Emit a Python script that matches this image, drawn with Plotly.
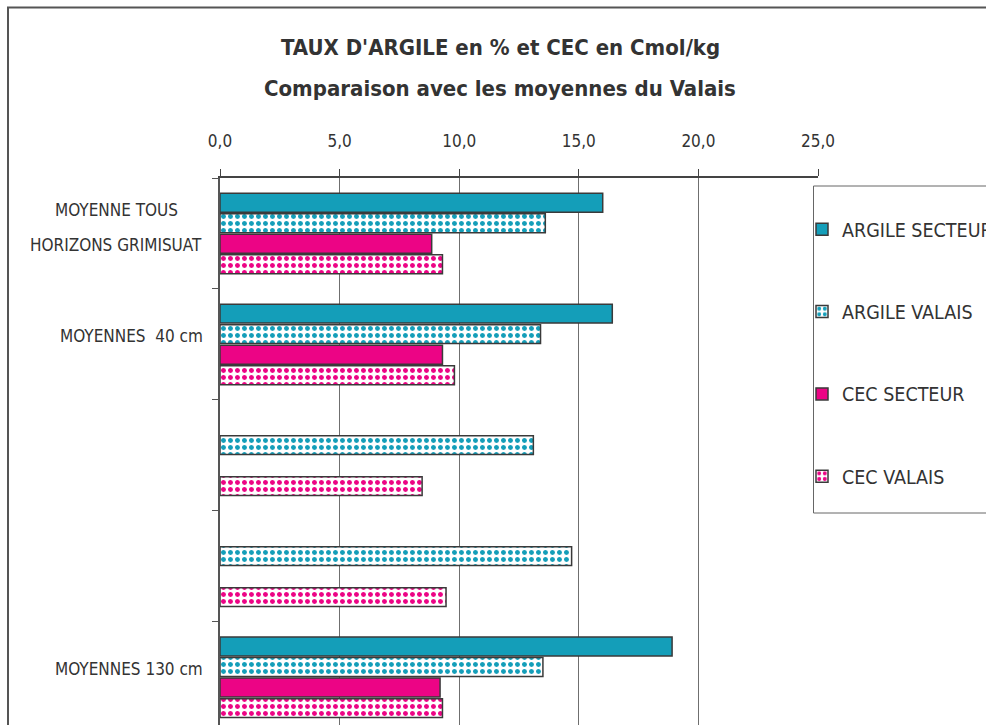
import plotly.graph_objects as go

categories = ["MOYENNE TOUS<br>HORIZONS GRIMISUAT", "MOYENNES  40 cm", "", "", "MOYENNES 130 cm"]
argile_secteur = [16.0, 16.4, None, None, 18.9]
argile_valais = [13.6, 13.4, 13.1, 14.7, 13.5]
cec_secteur = [8.85, 9.3, None, None, 9.2]
cec_valais = [9.3, 9.8, 8.45, 9.45, 9.3]
series_names = ["ARGILE SECTEUR", "ARGILE VALAIS", "CEC SECTEUR", "CEC VALAIS"]
x_ticks = [0, 5, 10, 15, 20, 25]
title_lines = ["TAUX D'ARGILE en % et CEC en Cmol/kg", "Comparaison avec les moyennes du Valais"]

TEAL = "#149EB9"
MAGENTA = "#EC0485"
FONT = "DejaVu Sans Condensed"
TXT = "#333333"

# page is shown with body margin removed, so figure pixels == page pixels
W, H = 986, 725
L, T = 220, 178
PW = 598
PH = H - T


def px_x(fx):
    return (fx - L) / PW


def px_y(fy):
    return (H - fy) / PH


ypos = list(range(len(categories)))

fig = go.Figure()
series = [argile_secteur, argile_valais, cec_secteur, cec_valais]
colors = [TEAL, TEAL, MAGENTA, MAGENTA]
patterned = [False, True, False, True]
for i, (name, vals, col, pat) in enumerate(zip(series_names, series, colors, patterned)):
    marker = dict(color=col if not pat else "white", line=dict(color="#3a3a3a", width=1.5))
    if pat:
        marker["pattern"] = dict(shape=".", fgcolor=col, bgcolor="white", size=7, solidity=0.4,
                                 fillmode="replace", fgopacity=1)
    fig.add_trace(go.Bar(
        y=ypos, x=vals, orientation="h", name=name, marker=marker,
        legendgroup=f"g{i}",
    ))

# category labels
for yi, lab in zip(ypos, categories):
    if not lab:
        continue
    lines = lab.split("<br>")
    if len(lines) == 1:
        fig.add_annotation(x=px_x(205), xref="paper", y=yi, yref="y", text=lab,
                           xanchor="right", showarrow=False, yshift=8,
                           font=dict(family=FONT, size=17, color=TXT))
    else:
        for k, ln in enumerate(lines):
            fig.add_annotation(x=px_x(116), xref="paper", y=yi, yref="y", text=ln,
                               xanchor="center", showarrow=False, yshift=23.5 - 35 * k,
                               font=dict(family=FONT, size=17, color=TXT))

for ln, fy in zip(title_lines, [47, 88]):
    fig.add_annotation(x=px_x(500), xref="paper", y=px_y(fy), yref="paper", text=ln,
                       showarrow=False, xanchor="center", yanchor="middle",
                       font=dict(family=FONT, size=22, color=TXT, weight="bold"))

# outer frame
fig.add_shape(type="rect", xref="paper", yref="paper", x0=px_x(8), x1=px_x(1200), y0=px_y(900), y1=px_y(7.5),
              line=dict(color="#555555", width=2), layer="above")
# legend box
fig.add_shape(type="rect", xref="paper", yref="paper", x0=px_x(813.5), x1=px_x(1200), y0=px_y(513), y1=px_y(186),
              line=dict(color="#666666", width=1), fillcolor="white", layer="above")

fig.update_layout(
    width=W, height=H,
    margin=dict(l=L, r=W - L - PW, t=T, b=0, pad=0, autoexpand=False),
    paper_bgcolor="white", plot_bgcolor="white",
    barmode="group", bargap=0.26, bargroupgap=0.08,
    separators=", ",
    showlegend=True,
    legend=dict(x=px_x(802), y=px_y(210), xanchor="left", yanchor="top",
                bgcolor="rgba(0,0,0,0)", borderwidth=0,
                font=dict(family=FONT, size=19.5, color=TXT),
                tracegroupgap=54, traceorder="grouped"),
    xaxis=dict(side="top", range=[0, 25], tickvals=x_ticks, tickformat=".1f",
               showgrid=True, gridcolor="#6f6f6f", gridwidth=1,
               showline=True, linecolor="#444444", linewidth=2,
               ticks="outside", ticklen=7, tickcolor="#444444",
               ticklabelstandoff=15, zeroline=False,
               tickfont=dict(family=FONT, size=17, color=TXT)),
    yaxis=dict(range=[4.43, -0.5], tickvals=[-0.5, 0.5, 1.5, 2.5, 3.5],
               ticktext=["", "", "", "", ""], showgrid=False, zeroline=False,
               showline=True, linecolor="#555555", linewidth=2,
               ticks="outside", ticklen=6, tickcolor="#555555"),
)

fig.write_html(
    "out.html",
    config={"displayModeBar": False},
    post_script="document.body.style.margin='0';document.documentElement.style.overflow='hidden';",
)
